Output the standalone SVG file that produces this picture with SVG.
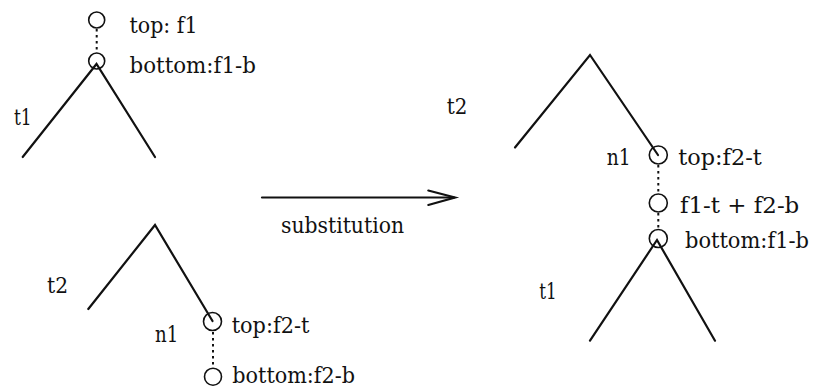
<svg xmlns="http://www.w3.org/2000/svg" width="818" height="390" viewBox="0 0 818 390">
<style>
text{font-family:'DejaVu Serif','Liberation Serif',serif;font-size:22.5px;fill:#111}
.edge{stroke:#111;stroke-width:2.2;fill:none;stroke-linecap:round}
.node{stroke:#111;stroke-width:1.6;fill:none}
.dot{stroke:#111;stroke-width:2;fill:none;stroke-dasharray:2.5 3.5}
</style>
<rect width="818" height="390" fill="#fff"/>
<g id="t1-left">
<circle class="node" cx="96.7" cy="20" r="8"/>
<circle class="node" cx="96.7" cy="61" r="8"/>
<line class="dot" x1="96.7" y1="29" x2="96.7" y2="53"/>
<polyline class="edge" points="22.7,157 96.5,64 155,157"/>
<text x="129.5" y="33" textLength="68" lengthAdjust="spacingAndGlyphs">top: f1</text>
<text x="129.5" y="73" textLength="126.5" lengthAdjust="spacingAndGlyphs">bottom:f1-b</text>
<text x="14" y="125" textLength="17.7" lengthAdjust="spacingAndGlyphs">t1</text>
</g>
<g id="t2-left">
<polyline class="edge" points="88.3,309 155,225 212.5,321"/>
<circle class="node" cx="212.5" cy="321.5" r="9"/>
<circle class="node" cx="213" cy="376.7" r="8.5"/>
<line class="dot" x1="213" y1="332" x2="213" y2="366"/>
<text x="47" y="293" textLength="21" lengthAdjust="spacingAndGlyphs">t2</text>
<text x="155" y="341.7" textLength="23.3" lengthAdjust="spacingAndGlyphs">n1</text>
<text x="231.7" y="333" textLength="77.6" lengthAdjust="spacingAndGlyphs">top:f2-t</text>
<text x="232.3" y="383.3" textLength="122.7" lengthAdjust="spacingAndGlyphs">bottom:f2-b</text>
</g>
<g id="connectors">
<line class="edge" x1="262" y1="197.5" x2="454" y2="197.5" stroke-width="1.8"/>
<polyline class="edge" points="428.3,190.5 455,197.5 428.3,205" stroke-width="1.8"/>
<text x="281" y="233" textLength="123" lengthAdjust="spacingAndGlyphs">substitution</text>
</g>
<g id="result">
<polyline class="edge" points="515,147.5 590,55 658,155"/>
<circle class="node" cx="658.3" cy="155" r="9"/>
<circle class="node" cx="658.3" cy="203" r="9"/>
<circle class="node" cx="658.3" cy="238.5" r="9"/>
<line class="dot" x1="658.3" y1="165" x2="658.3" y2="194"/>
<line class="dot" x1="658.3" y1="213" x2="658.3" y2="229"/>
<polyline class="edge" points="590,340.7 657,240 715,340.7"/>
<text x="446.7" y="114" textLength="20.6" lengthAdjust="spacingAndGlyphs">t2</text>
<text x="606.7" y="165" textLength="24" lengthAdjust="spacingAndGlyphs">n1</text>
<text x="678.3" y="165" textLength="83.4" lengthAdjust="spacingAndGlyphs">top:f2-t</text>
<text x="680" y="213.3" textLength="119.3" lengthAdjust="spacingAndGlyphs">f1-t + f2-b</text>
<text x="685" y="248.3" font-size="19.5" textLength="124" lengthAdjust="spacingAndGlyphs">bottom:f1-b</text>
<text x="539.3" y="299.3" textLength="17.4" lengthAdjust="spacingAndGlyphs">t1</text>
</g>
</svg>
